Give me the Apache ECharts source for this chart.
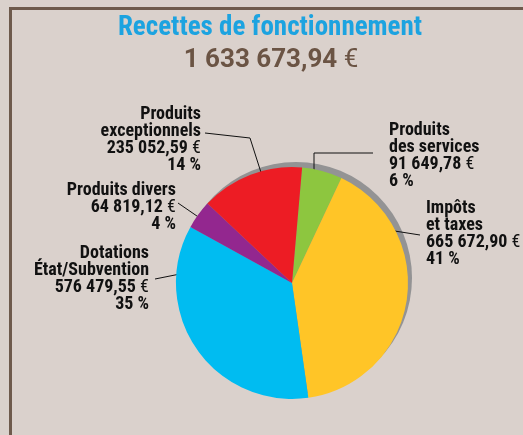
<!DOCTYPE html>
<html>
<head>
<meta charset="utf-8">
<script src="https://cdn.jsdelivr.net/npm/echarts@6/dist/echarts.min.js"></script>
<style>
  html, body { margin: 0; padding: 0; background: #dad1cc; }
  #chart { width: 523px; height: 435px; }
</style>
</head>
<body>
<div id="chart"></div>
<script>
// data, clockwise from the top
const categories = ['Produits\ndes services', 'Impôts\net taxes', 'Dotations\nÉtat/Subvention', 'Produits divers', 'Produits\nexceptionnels'];
const amounts = [91649.78, 665672.90, 576479.55, 64819.12, 235052.59];
const colors = ['#8dc63f', '#ffc527', '#00bcf1', '#93278f', '#ed1c24'];

// label placement (layout only)
const labelPos = [
  { x: 389, y: 122, align: 'left', line: [[314, 180], [314, 153], [373, 153]] },
  { x: 426, y: 200, align: 'left', line: [[382, 229], [401, 232], [420, 235]] },
  { x: 149, y: 245, align: 'right', line: [[207, 290], [190, 272], [155, 279]] },
  { x: 176, y: 182, align: 'right', line: [[210, 225], [194, 214], [178, 203]] },
  { x: 201, y: 106, align: 'right', line: [[265, 185], [250, 138], [205, 133]] }
];

const font = '"Roboto Condensed", "DejaVu Sans Condensed", sans-serif';

function fmt(v) {
  const parts = v.toFixed(2).split('.');
  const intPart = parts[0].replace(/\B(?=(\d{3})+(?!\d))/g, ' ');
  return intPart + ',' + parts[1];
}

const total = amounts.reduce((a, b) => a + b, 0);

const chart = echarts.init(document.getElementById('chart'));

const option = {
  backgroundColor: '#dad1cc',
  animation: false,
  graphic: [
    {
      type: 'polyline',
      shape: { points: [[10.5, 435], [10.5, 8.5], [523, 8.5]] },
      style: { stroke: '#6e5a4c', lineWidth: 3, fill: null }
    },
    {
      type: 'text',
      x: 270, y: 28,
      style: {
        text: 'Recettes de fonctionnement',
        align: 'center', verticalAlign: 'middle',
        fill: '#1ca3e0',
        font: 'bold 27px ' + font
      }
    },
    {
      type: 'text',
      x: 271, y: 60,
      style: {
        text: '{n|' + fmt(total) + ' }{e|€}',
        align: 'center', verticalAlign: 'middle',
        rich: {
          n: { fill: '#6b5444', fontSize: 26, fontWeight: 'bold', fontFamily: 'Roboto, sans-serif' },
          e: { fill: '#6b5444', fontSize: 26, fontWeight: 'normal', fontFamily: 'Roboto, sans-serif' }
        }
      }
    }
  ],
  series: [
    {
      // grey rim behind the pie
      type: 'pie',
      silent: true,
      center: [296, 278],
      radius: 116,
      label: { show: false },
      labelLine: { show: false },
      data: [{ value: total, itemStyle: { color: '#939394' } }],
      z: 1
    },
    {
      type: 'pie',
      center: [292, 283],
      radius: 116,
      startAngle: 85,
      clockwise: true,
      avoidLabelOverlap: false,
      z: 2,
      data: categories.map((c, i) => ({
        name: c,
        value: amounts[i],
        itemStyle: { color: colors[i] }
      })),
      label: {
        show: true,
        position: 'outside',
        formatter: (p) => {
          const lines = p.name.split('\n').map((l) => '{b|' + l + '}');
          lines.push('{b|' + fmt(p.value) + ' }{e|€}');
          lines.push('{b|' + Math.round(p.percent) + ' %}');
          return lines.join('\n');
        },
        rich: {
          b: { color: '#111', fontSize: 18, fontWeight: 'bold', fontFamily: font, lineHeight: 17 },
          e: { color: '#111', fontSize: 18, fontWeight: 'normal', fontFamily: font, lineHeight: 17 }
        }
      },
      labelLine: {
        show: true,
        lineStyle: { color: '#111', width: 1 }
      },
      labelLayout: (params) => {
        const l = labelPos[params.dataIndex];
        return {
          x: l.x,
          y: l.y,
          align: l.align,
          verticalAlign: 'top',
          labelLinePoints: l.line
        };
      }
    }
  ]
};

chart.setOption(option);
</script>
</body>
</html>
